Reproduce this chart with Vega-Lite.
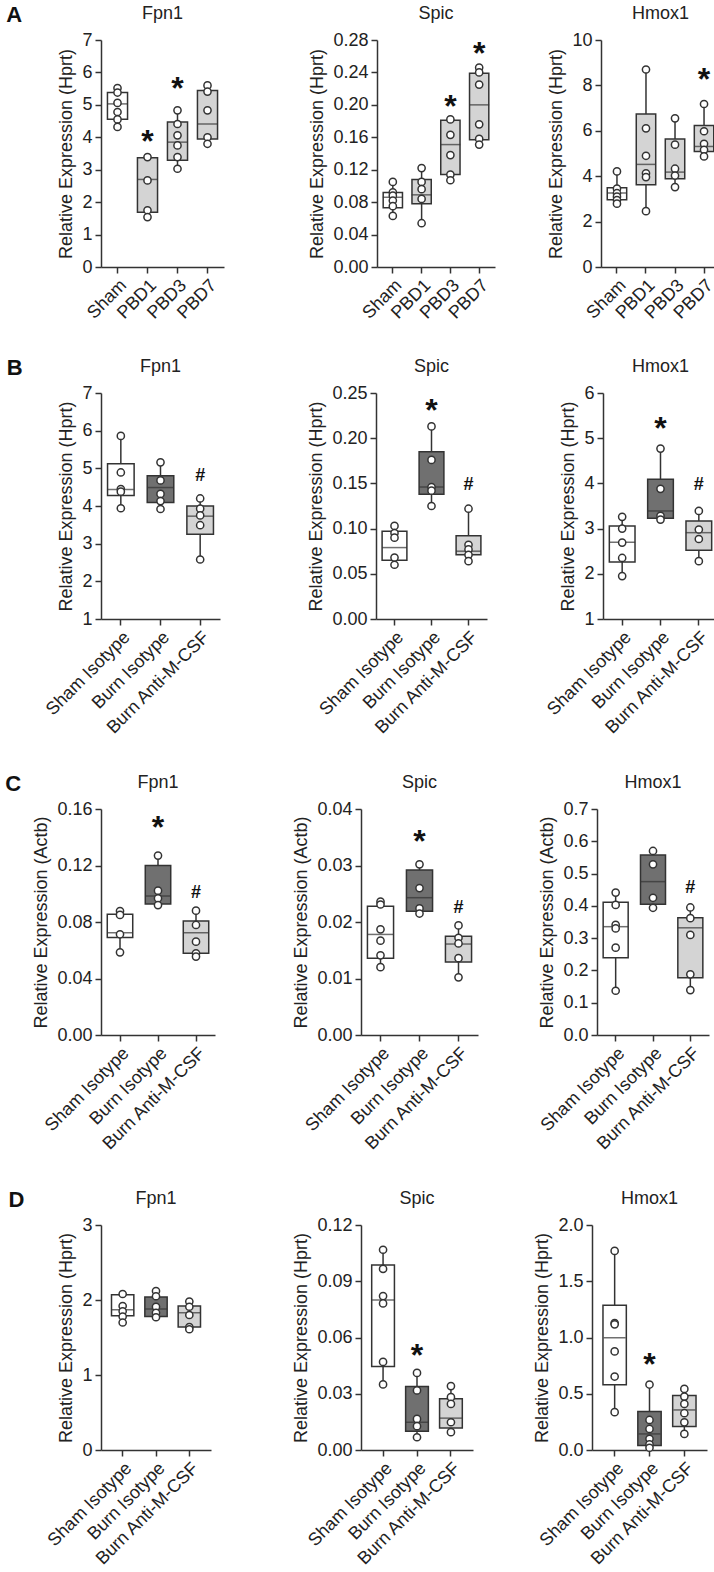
{
"$schema":"https://vega.github.io/schema/vega-lite/v6.json",
"background":"white",
"padding":{"left":5,"right":5,"top":4,"bottom":5},
"datasets":{"d":[
{"p":"A1","k":"box","g":"Sham","min":4.32,"q1":4.56,"med":5.03,"q3":5.38,"max":5.52},
{"p":"A1","k":"box","g":"PBD1","min":1.54,"q1":1.69,"med":2.70,"q3":3.37,"max":3.39},
{"p":"A1","k":"box","g":"PBD3","min":3.03,"q1":3.29,"med":3.85,"q3":4.47,"max":4.83},
{"p":"A1","k":"box","g":"PBD7","min":3.80,"q1":3.95,"med":4.41,"q3":5.44,"max":5.60},
{"p":"A1","k":"pt","g":"Sham","v":5.52},{"p":"A1","k":"pt","g":"Sham","v":5.38},{"p":"A1","k":"pt","g":"Sham","v":5.06},{"p":"A1","k":"pt","g":"Sham","v":4.78},{"p":"A1","k":"pt","g":"Sham","v":4.55},{"p":"A1","k":"pt","g":"Sham","v":4.32},
{"p":"A1","k":"pt","g":"PBD1","v":3.39},{"p":"A1","k":"pt","g":"PBD1","v":2.67},{"p":"A1","k":"pt","g":"PBD1","v":1.75},{"p":"A1","k":"pt","g":"PBD1","v":1.54},
{"p":"A1","k":"pt","g":"PBD3","v":4.83},{"p":"A1","k":"pt","g":"PBD3","v":4.41},{"p":"A1","k":"pt","g":"PBD3","v":4.06},{"p":"A1","k":"pt","g":"PBD3","v":3.75},{"p":"A1","k":"pt","g":"PBD3","v":3.39},{"p":"A1","k":"pt","g":"PBD3","v":3.03},
{"p":"A1","k":"pt","g":"PBD7","v":5.60},{"p":"A1","k":"pt","g":"PBD7","v":5.41},{"p":"A1","k":"pt","g":"PBD7","v":4.83},{"p":"A1","k":"pt","g":"PBD7","v":4.00},{"p":"A1","k":"pt","g":"PBD7","v":3.80},
{"p":"A1","k":"star","g":"PBD1","v":4.1},{"p":"A1","k":"star","g":"PBD3","v":5.73},
{"p":"A2","k":"box","g":"Sham","min":0.063,"q1":0.073,"med":0.086,"q3":0.092,"max":0.105},
{"p":"A2","k":"box","g":"PBD1","min":0.054,"q1":0.078,"med":0.089,"q3":0.108,"max":0.122},
{"p":"A2","k":"box","g":"PBD3","min":0.107,"q1":0.114,"med":0.151,"q3":0.181,"max":0.182},
{"p":"A2","k":"box","g":"PBD7","min":0.151,"q1":0.157,"med":0.200,"q3":0.239,"max":0.246},
{"p":"A2","k":"pt","g":"Sham","v":0.105},{"p":"A2","k":"pt","g":"Sham","v":0.092},{"p":"A2","k":"pt","g":"Sham","v":0.088},{"p":"A2","k":"pt","g":"Sham","v":0.082},{"p":"A2","k":"pt","g":"Sham","v":0.075},{"p":"A2","k":"pt","g":"Sham","v":0.063},
{"p":"A2","k":"pt","g":"PBD1","v":0.122},{"p":"A2","k":"pt","g":"PBD1","v":0.105},{"p":"A2","k":"pt","g":"PBD1","v":0.096},{"p":"A2","k":"pt","g":"PBD1","v":0.084},{"p":"A2","k":"pt","g":"PBD1","v":0.054},
{"p":"A2","k":"pt","g":"PBD3","v":0.182},{"p":"A2","k":"pt","g":"PBD3","v":0.163},{"p":"A2","k":"pt","g":"PBD3","v":0.138},{"p":"A2","k":"pt","g":"PBD3","v":0.114},{"p":"A2","k":"pt","g":"PBD3","v":0.107},
{"p":"A2","k":"pt","g":"PBD7","v":0.246},{"p":"A2","k":"pt","g":"PBD7","v":0.240},{"p":"A2","k":"pt","g":"PBD7","v":0.225},{"p":"A2","k":"pt","g":"PBD7","v":0.176},{"p":"A2","k":"pt","g":"PBD7","v":0.158},{"p":"A2","k":"pt","g":"PBD7","v":0.151},
{"p":"A2","k":"star","g":"PBD3","v":0.207},{"p":"A2","k":"star","g":"PBD7","v":0.273},
{"p":"A3","k":"box","g":"Sham","min":2.79,"q1":2.96,"med":3.26,"q3":3.49,"max":4.21},
{"p":"A3","k":"box","g":"PBD1","min":2.46,"q1":3.62,"med":4.52,"q3":6.74,"max":8.70},
{"p":"A3","k":"box","g":"PBD3","min":3.52,"q1":3.89,"med":4.18,"q3":5.64,"max":6.55},
{"p":"A3","k":"box","g":"PBD7","min":4.87,"q1":5.09,"med":5.31,"q3":6.23,"max":7.18},
{"p":"A3","k":"pt","g":"Sham","v":4.21},{"p":"A3","k":"pt","g":"Sham","v":3.45},{"p":"A3","k":"pt","g":"Sham","v":3.25},{"p":"A3","k":"pt","g":"Sham","v":3.10},{"p":"A3","k":"pt","g":"Sham","v":2.95},{"p":"A3","k":"pt","g":"Sham","v":2.79},
{"p":"A3","k":"pt","g":"PBD1","v":8.70},{"p":"A3","k":"pt","g":"PBD1","v":6.11},{"p":"A3","k":"pt","g":"PBD1","v":4.90},{"p":"A3","k":"pt","g":"PBD1","v":4.13},{"p":"A3","k":"pt","g":"PBD1","v":3.96},{"p":"A3","k":"pt","g":"PBD1","v":2.46},
{"p":"A3","k":"pt","g":"PBD3","v":6.55},{"p":"A3","k":"pt","g":"PBD3","v":5.39},{"p":"A3","k":"pt","g":"PBD3","v":4.33},{"p":"A3","k":"pt","g":"PBD3","v":4.03},{"p":"A3","k":"pt","g":"PBD3","v":3.52},
{"p":"A3","k":"pt","g":"PBD7","v":7.18},{"p":"A3","k":"pt","g":"PBD7","v":5.98},{"p":"A3","k":"pt","g":"PBD7","v":5.43},{"p":"A3","k":"pt","g":"PBD7","v":5.16},{"p":"A3","k":"pt","g":"PBD7","v":4.87},
{"p":"A3","k":"star","g":"PBD7","v":8.6},
{"p":"B1","k":"box","g":"Sham Isotype","min":3.94,"q1":4.28,"med":4.44,"q3":5.12,"max":5.86},
{"p":"B1","k":"box","g":"Burn Isotype","min":3.92,"q1":4.09,"med":4.49,"q3":4.80,"max":5.16},
{"p":"B1","k":"box","g":"Burn Anti-M-CSF","min":2.58,"q1":3.25,"med":3.73,"q3":4.00,"max":4.20},
{"p":"B1","k":"pt","g":"Sham Isotype","v":5.86},{"p":"B1","k":"pt","g":"Sham Isotype","v":4.89},{"p":"B1","k":"pt","g":"Sham Isotype","v":4.45},{"p":"B1","k":"pt","g":"Sham Isotype","v":4.38},{"p":"B1","k":"pt","g":"Sham Isotype","v":3.94},
{"p":"B1","k":"pt","g":"Burn Isotype","v":5.16},{"p":"B1","k":"pt","g":"Burn Isotype","v":4.68},{"p":"B1","k":"pt","g":"Burn Isotype","v":4.32},{"p":"B1","k":"pt","g":"Burn Isotype","v":4.13},{"p":"B1","k":"pt","g":"Burn Isotype","v":3.92},
{"p":"B1","k":"pt","g":"Burn Anti-M-CSF","v":4.20},{"p":"B1","k":"pt","g":"Burn Anti-M-CSF","v":3.93},{"p":"B1","k":"pt","g":"Burn Anti-M-CSF","v":3.75},{"p":"B1","k":"pt","g":"Burn Anti-M-CSF","v":3.49},{"p":"B1","k":"pt","g":"Burn Anti-M-CSF","v":2.58},
{"p":"B1","k":"hash","g":"Burn Anti-M-CSF","v":4.8},
{"p":"B2","k":"box","g":"Sham Isotype","min":0.060,"q1":0.065,"med":0.079,"q3":0.097,"max":0.103},
{"p":"B2","k":"box","g":"Burn Isotype","min":0.125,"q1":0.138,"med":0.146,"q3":0.185,"max":0.213},
{"p":"B2","k":"box","g":"Burn Anti-M-CSF","min":0.064,"q1":0.071,"med":0.075,"q3":0.092,"max":0.122},
{"p":"B2","k":"pt","g":"Sham Isotype","v":0.103},{"p":"B2","k":"pt","g":"Sham Isotype","v":0.095},{"p":"B2","k":"pt","g":"Sham Isotype","v":0.090},{"p":"B2","k":"pt","g":"Sham Isotype","v":0.068},{"p":"B2","k":"pt","g":"Sham Isotype","v":0.060},
{"p":"B2","k":"pt","g":"Burn Isotype","v":0.213},{"p":"B2","k":"pt","g":"Burn Isotype","v":0.176},{"p":"B2","k":"pt","g":"Burn Isotype","v":0.146},{"p":"B2","k":"pt","g":"Burn Isotype","v":0.142},{"p":"B2","k":"pt","g":"Burn Isotype","v":0.125},
{"p":"B2","k":"pt","g":"Burn Anti-M-CSF","v":0.122},{"p":"B2","k":"pt","g":"Burn Anti-M-CSF","v":0.082},{"p":"B2","k":"pt","g":"Burn Anti-M-CSF","v":0.077},{"p":"B2","k":"pt","g":"Burn Anti-M-CSF","v":0.071},{"p":"B2","k":"pt","g":"Burn Anti-M-CSF","v":0.064},
{"p":"B2","k":"star","g":"Burn Isotype","v":0.239},{"p":"B2","k":"hash","g":"Burn Anti-M-CSF","v":0.148},
{"p":"B3","k":"box","g":"Sham Isotype","min":1.95,"q1":2.26,"med":2.70,"q3":3.06,"max":3.26},
{"p":"B3","k":"box","g":"Burn Isotype","min":3.20,"q1":3.23,"med":3.39,"q3":4.09,"max":4.77},
{"p":"B3","k":"box","g":"Burn Anti-M-CSF","min":2.28,"q1":2.52,"med":2.91,"q3":3.17,"max":3.39},
{"p":"B3","k":"pt","g":"Sham Isotype","v":3.26},{"p":"B3","k":"pt","g":"Sham Isotype","v":3.00},{"p":"B3","k":"pt","g":"Sham Isotype","v":2.69},{"p":"B3","k":"pt","g":"Sham Isotype","v":2.35},{"p":"B3","k":"pt","g":"Sham Isotype","v":1.95},
{"p":"B3","k":"pt","g":"Burn Isotype","v":4.77},{"p":"B3","k":"pt","g":"Burn Isotype","v":3.88},{"p":"B3","k":"pt","g":"Burn Isotype","v":3.28},{"p":"B3","k":"pt","g":"Burn Isotype","v":3.20},
{"p":"B3","k":"pt","g":"Burn Anti-M-CSF","v":3.39},{"p":"B3","k":"pt","g":"Burn Anti-M-CSF","v":2.98},{"p":"B3","k":"pt","g":"Burn Anti-M-CSF","v":2.77},{"p":"B3","k":"pt","g":"Burn Anti-M-CSF","v":2.28},
{"p":"B3","k":"star","g":"Burn Isotype","v":5.39},{"p":"B3","k":"hash","g":"Burn Anti-M-CSF","v":3.97},
{"p":"C1","k":"box","g":"Sham Isotype","min":0.0585,"q1":0.069,"med":0.0724,"q3":0.0854,"max":0.0878},
{"p":"C1","k":"box","g":"Burn Isotype","min":0.092,"q1":0.0927,"med":0.0984,"q3":0.120,"max":0.127},
{"p":"C1","k":"box","g":"Burn Anti-M-CSF","min":0.0555,"q1":0.0578,"med":0.0724,"q3":0.0807,"max":0.088},
{"p":"C1","k":"pt","g":"Sham Isotype","v":0.0878},{"p":"C1","k":"pt","g":"Sham Isotype","v":0.085},{"p":"C1","k":"pt","g":"Sham Isotype","v":0.0713},{"p":"C1","k":"pt","g":"Sham Isotype","v":0.0585},
{"p":"C1","k":"pt","g":"Burn Isotype","v":0.127},{"p":"C1","k":"pt","g":"Burn Isotype","v":0.1022},{"p":"C1","k":"pt","g":"Burn Isotype","v":0.0968},{"p":"C1","k":"pt","g":"Burn Isotype","v":0.092},
{"p":"C1","k":"pt","g":"Burn Anti-M-CSF","v":0.088},{"p":"C1","k":"pt","g":"Burn Anti-M-CSF","v":0.0779},{"p":"C1","k":"pt","g":"Burn Anti-M-CSF","v":0.0661},{"p":"C1","k":"pt","g":"Burn Anti-M-CSF","v":0.0578},{"p":"C1","k":"pt","g":"Burn Anti-M-CSF","v":0.0555},
{"p":"C1","k":"star","g":"Burn Isotype","v":0.152},{"p":"C1","k":"hash","g":"Burn Anti-M-CSF","v":0.1008},
{"p":"C2","k":"box","g":"Sham Isotype","min":0.012,"q1":0.0136,"med":0.0178,"q3":0.0228,"max":0.0236},
{"p":"C2","k":"box","g":"Burn Isotype","min":0.0215,"q1":0.0219,"med":0.0243,"q3":0.0292,"max":0.0302},
{"p":"C2","k":"box","g":"Burn Anti-M-CSF","min":0.0102,"q1":0.0129,"med":0.0161,"q3":0.0175,"max":0.0194},
{"p":"C2","k":"pt","g":"Sham Isotype","v":0.0236},{"p":"C2","k":"pt","g":"Sham Isotype","v":0.0231},{"p":"C2","k":"pt","g":"Sham Isotype","v":0.0187},{"p":"C2","k":"pt","g":"Sham Isotype","v":0.0167},{"p":"C2","k":"pt","g":"Sham Isotype","v":0.0141},{"p":"C2","k":"pt","g":"Sham Isotype","v":0.012},
{"p":"C2","k":"pt","g":"Burn Isotype","v":0.0302},{"p":"C2","k":"pt","g":"Burn Isotype","v":0.026},{"p":"C2","k":"pt","g":"Burn Isotype","v":0.0224},{"p":"C2","k":"pt","g":"Burn Isotype","v":0.0215},
{"p":"C2","k":"pt","g":"Burn Anti-M-CSF","v":0.0194},{"p":"C2","k":"pt","g":"Burn Anti-M-CSF","v":0.0172},{"p":"C2","k":"pt","g":"Burn Anti-M-CSF","v":0.0162},{"p":"C2","k":"pt","g":"Burn Anti-M-CSF","v":0.0136},{"p":"C2","k":"pt","g":"Burn Anti-M-CSF","v":0.0102},
{"p":"C2","k":"star","g":"Burn Isotype","v":0.0356},{"p":"C2","k":"hash","g":"Burn Anti-M-CSF","v":0.0225},
{"p":"C3","k":"box","g":"Sham Isotype","min":0.137,"q1":0.2395,"med":0.3355,"q3":0.411,"max":0.441},
{"p":"C3","k":"box","g":"Burn Isotype","min":0.394,"q1":0.405,"med":0.475,"q3":0.5575,"max":0.57},
{"p":"C3","k":"box","g":"Burn Anti-M-CSF","min":0.139,"q1":0.1776,"med":0.332,"q3":0.363,"max":0.395},
{"p":"C3","k":"pt","g":"Sham Isotype","v":0.441},{"p":"C3","k":"pt","g":"Sham Isotype","v":0.403},{"p":"C3","k":"pt","g":"Sham Isotype","v":0.341},{"p":"C3","k":"pt","g":"Sham Isotype","v":0.33},{"p":"C3","k":"pt","g":"Sham Isotype","v":0.2705},{"p":"C3","k":"pt","g":"Sham Isotype","v":0.137},
{"p":"C3","k":"pt","g":"Burn Isotype","v":0.57},{"p":"C3","k":"pt","g":"Burn Isotype","v":0.5286},{"p":"C3","k":"pt","g":"Burn Isotype","v":0.425},{"p":"C3","k":"pt","g":"Burn Isotype","v":0.394},
{"p":"C3","k":"pt","g":"Burn Anti-M-CSF","v":0.395},{"p":"C3","k":"pt","g":"Burn Anti-M-CSF","v":0.362},{"p":"C3","k":"pt","g":"Burn Anti-M-CSF","v":0.31},{"p":"C3","k":"pt","g":"Burn Anti-M-CSF","v":0.188},{"p":"C3","k":"pt","g":"Burn Anti-M-CSF","v":0.139},
{"p":"C3","k":"hash","g":"Burn Anti-M-CSF","v":0.454},
{"p":"D1","k":"box","g":"Sham Isotype","min":1.70,"q1":1.79,"med":1.87,"q3":2.07,"max":2.08},
{"p":"D1","k":"box","g":"Burn Isotype","min":1.77,"q1":1.78,"med":1.88,"q3":2.04,"max":2.12},
{"p":"D1","k":"box","g":"Burn Anti-M-CSF","min":1.61,"q1":1.64,"med":1.83,"q3":1.92,"max":1.98},
{"p":"D1","k":"pt","g":"Sham Isotype","v":2.08},{"p":"D1","k":"pt","g":"Sham Isotype","v":1.92},{"p":"D1","k":"pt","g":"Sham Isotype","v":1.85},{"p":"D1","k":"pt","g":"Sham Isotype","v":1.78},{"p":"D1","k":"pt","g":"Sham Isotype","v":1.70},
{"p":"D1","k":"pt","g":"Burn Isotype","v":2.12},{"p":"D1","k":"pt","g":"Burn Isotype","v":2.05},{"p":"D1","k":"pt","g":"Burn Isotype","v":1.91},{"p":"D1","k":"pt","g":"Burn Isotype","v":1.83},{"p":"D1","k":"pt","g":"Burn Isotype","v":1.77},
{"p":"D1","k":"pt","g":"Burn Anti-M-CSF","v":1.98},{"p":"D1","k":"pt","g":"Burn Anti-M-CSF","v":1.91},{"p":"D1","k":"pt","g":"Burn Anti-M-CSF","v":1.80},{"p":"D1","k":"pt","g":"Burn Anti-M-CSF","v":1.64},{"p":"D1","k":"pt","g":"Burn Anti-M-CSF","v":1.61},
{"p":"D2","k":"box","g":"Sham Isotype","min":0.035,"q1":0.0446,"med":0.080,"q3":0.0987,"max":0.1068},
{"p":"D2","k":"box","g":"Burn Isotype","min":0.0068,"q1":0.010,"med":0.0148,"q3":0.0339,"max":0.0411},
{"p":"D2","k":"box","g":"Burn Anti-M-CSF","min":0.0095,"q1":0.0118,"med":0.017,"q3":0.0273,"max":0.0341},
{"p":"D2","k":"pt","g":"Sham Isotype","v":0.1068},{"p":"D2","k":"pt","g":"Sham Isotype","v":0.0966},{"p":"D2","k":"pt","g":"Sham Isotype","v":0.0821},{"p":"D2","k":"pt","g":"Sham Isotype","v":0.0782},{"p":"D2","k":"pt","g":"Sham Isotype","v":0.047},{"p":"D2","k":"pt","g":"Sham Isotype","v":0.035},
{"p":"D2","k":"pt","g":"Burn Isotype","v":0.0411},{"p":"D2","k":"pt","g":"Burn Isotype","v":0.0318},{"p":"D2","k":"pt","g":"Burn Isotype","v":0.0166},{"p":"D2","k":"pt","g":"Burn Isotype","v":0.0127},{"p":"D2","k":"pt","g":"Burn Isotype","v":0.0068},
{"p":"D2","k":"pt","g":"Burn Anti-M-CSF","v":0.0341},{"p":"D2","k":"pt","g":"Burn Anti-M-CSF","v":0.0282},{"p":"D2","k":"pt","g":"Burn Anti-M-CSF","v":0.0246},{"p":"D2","k":"pt","g":"Burn Anti-M-CSF","v":0.0148},{"p":"D2","k":"pt","g":"Burn Anti-M-CSF","v":0.0095},
{"p":"D2","k":"star","g":"Burn Isotype","v":0.0546},
{"p":"D3","k":"box","g":"Sham Isotype","min":0.336,"q1":0.579,"med":0.998,"q3":1.286,"max":1.77},
{"p":"D3","k":"box","g":"Burn Isotype","min":0.02,"q1":0.04,"med":0.143,"q3":0.342,"max":0.582},
{"p":"D3","k":"box","g":"Burn Anti-M-CSF","min":0.143,"q1":0.208,"med":0.356,"q3":0.484,"max":0.543},
{"p":"D3","k":"pt","g":"Sham Isotype","v":1.77},{"p":"D3","k":"pt","g":"Sham Isotype","v":1.129},{"p":"D3","k":"pt","g":"Sham Isotype","v":1.117},{"p":"D3","k":"pt","g":"Sham Isotype","v":0.876},{"p":"D3","k":"pt","g":"Sham Isotype","v":0.653},{"p":"D3","k":"pt","g":"Sham Isotype","v":0.336},
{"p":"D3","k":"pt","g":"Burn Isotype","v":0.582},{"p":"D3","k":"pt","g":"Burn Isotype","v":0.267},{"p":"D3","k":"pt","g":"Burn Isotype","v":0.187},{"p":"D3","k":"pt","g":"Burn Isotype","v":0.10},{"p":"D3","k":"pt","g":"Burn Isotype","v":0.05},{"p":"D3","k":"pt","g":"Burn Isotype","v":0.02},
{"p":"D3","k":"pt","g":"Burn Anti-M-CSF","v":0.543},{"p":"D3","k":"pt","g":"Burn Anti-M-CSF","v":0.475},{"p":"D3","k":"pt","g":"Burn Anti-M-CSF","v":0.41},{"p":"D3","k":"pt","g":"Burn Anti-M-CSF","v":0.327},{"p":"D3","k":"pt","g":"Burn Anti-M-CSF","v":0.246},{"p":"D3","k":"pt","g":"Burn Anti-M-CSF","v":0.143},
{"p":"D3","k":"star","g":"Burn Isotype","v":0.83}
]},
"config":{
 "view":{"stroke":null},
 "font":"Liberation Sans",
 "axis":{"domainColor":"#333","domainWidth":1.5,"tickColor":"#333","tickWidth":1.5,"tickSize":6,"labelFont":"Liberation Sans","labelFontSize":18,"labelColor":"#222","titleFont":"Liberation Sans","titleFontSize":18,"titleFontWeight":"normal","titleColor":"#222","grid":false,"labelPadding":3,"titlePadding":6,"labelOverlap":false},
 "axisY":{"labelOverlap":false,"labelSeparation":-40},
 "axisQuantitative":{"labelOverlap":false},
 "axisX":{"labelAngle":-45},
 "title":{"font":"Liberation Sans","fontSize":18,"fontWeight":"normal","color":"#222","anchor":"middle","frame":"group","offset":8,"baseline":"bottom"}
},
"spacing":35,
"vconcat":[
{"title":{"text":"A","orient":"left","anchor":"end","angle":0,"align":"right","baseline":"top","frame":"bounds","fontSize":22,"fontWeight":"bold","color":"#111","offset":0,"dx":-20},
 "spacing":84,
 "hconcat":[
  {"width":123,"height":227,"title":{"text":"Fpn1"},"data":{"name":"d"},"transform":[{"filter":"datum.p==='A1'"}],
   "encoding":{"x":{"field":"g","type":"nominal","title":null,"scale":{"type":"band","domain":["Sham","PBD1","PBD3","PBD7"],"paddingInner":0,"paddingOuter":0.05}}},
   "layer":[
    {"transform":[{"filter":"datum.k==='box'"}],"mark":{"type":"rule","color":"#333","strokeWidth":1.5},"encoding":{"y":{"field":"min","type":"quantitative","title":"Relative Expression (Hprt)","scale":{"domain":[0,7],"nice":false,"zero":false},"axis":{"values":[0,1,2,3,4,5,6,7],"format":"d","labelOverlap":false}},"y2":{"field":"max"}}},
    {"transform":[{"filter":"datum.k==='box'"}],"mark":{"type":"bar","width":{"band":0.67},"stroke":"#333","strokeWidth":1.5},"encoding":{"y":{"field":"q1","type":"quantitative","title":"Relative Expression (Hprt)","axis":{"values":[0,1,2,3,4,5,6,7],"format":"d","labelOverlap":false}},"y2":{"field":"q3"},"fill":{"field":"g","type":"nominal","legend":null,"scale":{"domain":["Sham","PBD1","PBD3","PBD7","Sham Isotype","Burn Isotype","Burn Anti-M-CSF"],"range":["#ffffff","#d4d4d4","#d4d4d4","#d4d4d4","#ffffff","#707070","#d4d4d4"]}}}},
    {"transform":[{"filter":"datum.k==='box'"}],"mark":{"type":"tick","color":"#333","thickness":1.5,"size":20},"encoding":{"y":{"field":"med","type":"quantitative","title":"Relative Expression (Hprt)","axis":{"values":[0,1,2,3,4,5,6,7],"format":"d","labelOverlap":false}}}},
    {"transform":[{"filter":"datum.k==='pt'"}],"mark":{"type":"point","filled":true,"fill":"#ffffff","stroke":"#333","strokeWidth":1.5,"size":52,"opacity":1},"encoding":{"y":{"field":"v","type":"quantitative","title":"Relative Expression (Hprt)","axis":{"values":[0,1,2,3,4,5,6,7],"format":"d","labelOverlap":false}}}},
    {"transform":[{"filter":"datum.k==='star'"}],"mark":{"type":"text","text":"*","fontSize":32,"fontWeight":"bold","color":"#111","baseline":"middle","dy":8},"encoding":{"y":{"field":"v","type":"quantitative","title":"Relative Expression (Hprt)","axis":{"values":[0,1,2,3,4,5,6,7],"format":"d","labelOverlap":false}}}}
   ]},
  {"spacing":52,"hconcat":[
  {"width":118,"height":227,"title":{"text":"Spic"},"data":{"name":"d"},"transform":[{"filter":"datum.p==='A2'"}],
   "encoding":{"x":{"field":"g","type":"nominal","title":null,"scale":{"type":"band","domain":["Sham","PBD1","PBD3","PBD7"],"paddingInner":0,"paddingOuter":0.05}}},
   "layer":[
    {"transform":[{"filter":"datum.k==='box'"}],"mark":{"type":"rule","color":"#333","strokeWidth":1.5},"encoding":{"y":{"field":"min","type":"quantitative","title":"Relative Expression (Hprt)","scale":{"domain":[0,0.28],"nice":false,"zero":false},"axis":{"values":[0,0.04,0.08,0.12,0.16,0.20,0.24,0.28],"format":".2f","labelOverlap":false}},"y2":{"field":"max"}}},
    {"transform":[{"filter":"datum.k==='box'"}],"mark":{"type":"bar","width":{"band":0.67},"stroke":"#333","strokeWidth":1.5},"encoding":{"y":{"field":"q1","type":"quantitative","title":"Relative Expression (Hprt)","axis":{"values":[0,0.04,0.08,0.12,0.16,0.20,0.24,0.28],"format":".2f","labelOverlap":false}},"y2":{"field":"q3"},"fill":{"field":"g","type":"nominal","legend":null,"scale":{"domain":["Sham","PBD1","PBD3","PBD7","Sham Isotype","Burn Isotype","Burn Anti-M-CSF"],"range":["#ffffff","#d4d4d4","#d4d4d4","#d4d4d4","#ffffff","#707070","#d4d4d4"]}}}},
    {"transform":[{"filter":"datum.k==='box'"}],"mark":{"type":"tick","color":"#333","thickness":1.5,"size":20},"encoding":{"y":{"field":"med","type":"quantitative","title":"Relative Expression (Hprt)","axis":{"values":[0,0.04,0.08,0.12,0.16,0.20,0.24,0.28],"format":".2f","labelOverlap":false}}}},
    {"transform":[{"filter":"datum.k==='pt'"}],"mark":{"type":"point","filled":true,"fill":"#ffffff","stroke":"#333","strokeWidth":1.5,"size":52,"opacity":1},"encoding":{"y":{"field":"v","type":"quantitative","title":"Relative Expression (Hprt)","axis":{"values":[0,0.04,0.08,0.12,0.16,0.20,0.24,0.28],"format":".2f","labelOverlap":false}}}},
    {"transform":[{"filter":"datum.k==='star'"}],"mark":{"type":"text","text":"*","fontSize":32,"fontWeight":"bold","color":"#111","baseline":"middle","dy":8},"encoding":{"y":{"field":"v","type":"quantitative","title":"Relative Expression (Hprt)","axis":{"values":[0,0.04,0.08,0.12,0.16,0.20,0.24,0.28],"format":".2f","labelOverlap":false}}}}
   ]},
  {"width":119,"height":227,"title":{"text":"Hmox1"},"data":{"name":"d"},"transform":[{"filter":"datum.p==='A3'"}],
   "encoding":{"x":{"field":"g","type":"nominal","title":null,"scale":{"type":"band","domain":["Sham","PBD1","PBD3","PBD7"],"paddingInner":0,"paddingOuter":0.05}}},
   "layer":[
    {"transform":[{"filter":"datum.k==='box'"}],"mark":{"type":"rule","color":"#333","strokeWidth":1.5},"encoding":{"y":{"field":"min","type":"quantitative","title":"Relative Expression (Hprt)","scale":{"domain":[0,10],"nice":false,"zero":false},"axis":{"values":[0,2,4,6,8,10],"format":"d","labelOverlap":false}},"y2":{"field":"max"}}},
    {"transform":[{"filter":"datum.k==='box'"}],"mark":{"type":"bar","width":{"band":0.67},"stroke":"#333","strokeWidth":1.5},"encoding":{"y":{"field":"q1","type":"quantitative","title":"Relative Expression (Hprt)","axis":{"values":[0,2,4,6,8,10],"format":"d","labelOverlap":false}},"y2":{"field":"q3"},"fill":{"field":"g","type":"nominal","legend":null,"scale":{"domain":["Sham","PBD1","PBD3","PBD7","Sham Isotype","Burn Isotype","Burn Anti-M-CSF"],"range":["#ffffff","#d4d4d4","#d4d4d4","#d4d4d4","#ffffff","#707070","#d4d4d4"]}}}},
    {"transform":[{"filter":"datum.k==='box'"}],"mark":{"type":"tick","color":"#333","thickness":1.5,"size":20},"encoding":{"y":{"field":"med","type":"quantitative","title":"Relative Expression (Hprt)","axis":{"values":[0,2,4,6,8,10],"format":"d","labelOverlap":false}}}},
    {"transform":[{"filter":"datum.k==='pt'"}],"mark":{"type":"point","filled":true,"fill":"#ffffff","stroke":"#333","strokeWidth":1.5,"size":52,"opacity":1},"encoding":{"y":{"field":"v","type":"quantitative","title":"Relative Expression (Hprt)","axis":{"values":[0,2,4,6,8,10],"format":"d","labelOverlap":false}}}},
    {"transform":[{"filter":"datum.k==='star'"}],"mark":{"type":"text","text":"*","fontSize":32,"fontWeight":"bold","color":"#111","baseline":"middle","dy":8},"encoding":{"y":{"field":"v","type":"quantitative","title":"Relative Expression (Hprt)","axis":{"values":[0,2,4,6,8,10],"format":"d","labelOverlap":false}}}}
   ]}
  ]}
 ]},
{"title":{"text":"B","orient":"left","anchor":"end","angle":0,"align":"right","baseline":"top","frame":"bounds","fontSize":22,"fontWeight":"bold","color":"#111","offset":0,"dx":-4},
 "spacing":87,
 "hconcat":[
  {"width":119,"height":226,"title":{"text":"Fpn1"},"data":{"name":"d"},"transform":[{"filter":"datum.p==='B1'"}],
   "encoding":{"x":{"field":"g","type":"nominal","title":null,"scale":{"type":"band","domain":["Sham Isotype","Burn Isotype","Burn Anti-M-CSF"],"paddingInner":0,"paddingOuter":0}}},
   "layer":[
    {"transform":[{"filter":"datum.k==='box'"}],"mark":{"type":"rule","color":"#333","strokeWidth":1.5},"encoding":{"y":{"field":"min","type":"quantitative","title":"Relative Expression (Hprt)","scale":{"domain":[1,7],"nice":false,"zero":false},"axis":{"values":[1,2,3,4,5,6,7],"format":"d","labelOverlap":false}},"y2":{"field":"max"}}},
    {"transform":[{"filter":"datum.k==='box'"}],"mark":{"type":"bar","width":{"band":0.67},"stroke":"#333","strokeWidth":1.5},"encoding":{"y":{"field":"q1","type":"quantitative","title":"Relative Expression (Hprt)","axis":{"values":[1,2,3,4,5,6,7],"format":"d","labelOverlap":false}},"y2":{"field":"q3"},"fill":{"field":"g","type":"nominal","legend":null,"scale":{"domain":["Sham","PBD1","PBD3","PBD7","Sham Isotype","Burn Isotype","Burn Anti-M-CSF"],"range":["#ffffff","#d4d4d4","#d4d4d4","#d4d4d4","#ffffff","#707070","#d4d4d4"]}}}},
    {"transform":[{"filter":"datum.k==='box'"}],"mark":{"type":"tick","color":"#333","thickness":1.5,"size":26},"encoding":{"y":{"field":"med","type":"quantitative","title":"Relative Expression (Hprt)","axis":{"values":[1,2,3,4,5,6,7],"format":"d","labelOverlap":false}}}},
    {"transform":[{"filter":"datum.k==='pt'"}],"mark":{"type":"point","filled":true,"fill":"#ffffff","stroke":"#333","strokeWidth":1.5,"size":52,"opacity":1},"encoding":{"y":{"field":"v","type":"quantitative","title":"Relative Expression (Hprt)","axis":{"values":[1,2,3,4,5,6,7],"format":"d","labelOverlap":false}}}},
    {"transform":[{"filter":"datum.k==='star'"}],"mark":{"type":"text","text":"*","fontSize":32,"fontWeight":"bold","color":"#111","baseline":"middle","dy":8},"encoding":{"y":{"field":"v","type":"quantitative","title":"Relative Expression (Hprt)","axis":{"values":[1,2,3,4,5,6,7],"format":"d","labelOverlap":false}}}},
    {"transform":[{"filter":"datum.k==='hash'"}],"mark":{"type":"text","text":"#","fontSize":18,"fontWeight":"bold","color":"#111","baseline":"middle"},"encoding":{"y":{"field":"v","type":"quantitative","title":"Relative Expression (Hprt)","axis":{"values":[1,2,3,4,5,6,7],"format":"d","labelOverlap":false}}}}
   ]},
  {"spacing":56,"hconcat":[
  {"width":111,"height":226,"title":{"text":"Spic"},"data":{"name":"d"},"transform":[{"filter":"datum.p==='B2'"}],
   "encoding":{"x":{"field":"g","type":"nominal","title":null,"scale":{"type":"band","domain":["Sham Isotype","Burn Isotype","Burn Anti-M-CSF"],"paddingInner":0,"paddingOuter":0}}},
   "layer":[
    {"transform":[{"filter":"datum.k==='box'"}],"mark":{"type":"rule","color":"#333","strokeWidth":1.5},"encoding":{"y":{"field":"min","type":"quantitative","title":"Relative Expression (Hprt)","scale":{"domain":[0,0.25],"nice":false,"zero":false},"axis":{"values":[0,0.05,0.10,0.15,0.20,0.25],"format":".2f","labelOverlap":false}},"y2":{"field":"max"}}},
    {"transform":[{"filter":"datum.k==='box'"}],"mark":{"type":"bar","width":{"band":0.67},"stroke":"#333","strokeWidth":1.5},"encoding":{"y":{"field":"q1","type":"quantitative","title":"Relative Expression (Hprt)","axis":{"values":[0,0.05,0.10,0.15,0.20,0.25],"format":".2f","labelOverlap":false}},"y2":{"field":"q3"},"fill":{"field":"g","type":"nominal","legend":null,"scale":{"domain":["Sham","PBD1","PBD3","PBD7","Sham Isotype","Burn Isotype","Burn Anti-M-CSF"],"range":["#ffffff","#d4d4d4","#d4d4d4","#d4d4d4","#ffffff","#707070","#d4d4d4"]}}}},
    {"transform":[{"filter":"datum.k==='box'"}],"mark":{"type":"tick","color":"#333","thickness":1.5,"size":25},"encoding":{"y":{"field":"med","type":"quantitative","title":"Relative Expression (Hprt)","axis":{"values":[0,0.05,0.10,0.15,0.20,0.25],"format":".2f","labelOverlap":false}}}},
    {"transform":[{"filter":"datum.k==='pt'"}],"mark":{"type":"point","filled":true,"fill":"#ffffff","stroke":"#333","strokeWidth":1.5,"size":52,"opacity":1},"encoding":{"y":{"field":"v","type":"quantitative","title":"Relative Expression (Hprt)","axis":{"values":[0,0.05,0.10,0.15,0.20,0.25],"format":".2f","labelOverlap":false}}}},
    {"transform":[{"filter":"datum.k==='star'"}],"mark":{"type":"text","text":"*","fontSize":32,"fontWeight":"bold","color":"#111","baseline":"middle","dy":8},"encoding":{"y":{"field":"v","type":"quantitative","title":"Relative Expression (Hprt)","axis":{"values":[0,0.05,0.10,0.15,0.20,0.25],"format":".2f","labelOverlap":false}}}},
    {"transform":[{"filter":"datum.k==='hash'"}],"mark":{"type":"text","text":"#","fontSize":18,"fontWeight":"bold","color":"#111","baseline":"middle"},"encoding":{"y":{"field":"v","type":"quantitative","title":"Relative Expression (Hprt)","axis":{"values":[0,0.05,0.10,0.15,0.20,0.25],"format":".2f","labelOverlap":false}}}}
   ]},
  {"width":115,"height":226,"title":{"text":"Hmox1"},"data":{"name":"d"},"transform":[{"filter":"datum.p==='B3'"}],
   "encoding":{"x":{"field":"g","type":"nominal","title":null,"scale":{"type":"band","domain":["Sham Isotype","Burn Isotype","Burn Anti-M-CSF"],"paddingInner":0,"paddingOuter":0}}},
   "layer":[
    {"transform":[{"filter":"datum.k==='box'"}],"mark":{"type":"rule","color":"#333","strokeWidth":1.5},"encoding":{"y":{"field":"min","type":"quantitative","title":"Relative Expression (Hprt)","scale":{"domain":[1,6],"nice":false,"zero":false},"axis":{"values":[1,2,3,4,5,6],"format":"d","labelOverlap":false}},"y2":{"field":"max"}}},
    {"transform":[{"filter":"datum.k==='box'"}],"mark":{"type":"bar","width":{"band":0.67},"stroke":"#333","strokeWidth":1.5},"encoding":{"y":{"field":"q1","type":"quantitative","title":"Relative Expression (Hprt)","axis":{"values":[1,2,3,4,5,6],"format":"d","labelOverlap":false}},"y2":{"field":"q3"},"fill":{"field":"g","type":"nominal","legend":null,"scale":{"domain":["Sham","PBD1","PBD3","PBD7","Sham Isotype","Burn Isotype","Burn Anti-M-CSF"],"range":["#ffffff","#d4d4d4","#d4d4d4","#d4d4d4","#ffffff","#707070","#d4d4d4"]}}}},
    {"transform":[{"filter":"datum.k==='box'"}],"mark":{"type":"tick","color":"#333","thickness":1.5,"size":26},"encoding":{"y":{"field":"med","type":"quantitative","title":"Relative Expression (Hprt)","axis":{"values":[1,2,3,4,5,6],"format":"d","labelOverlap":false}}}},
    {"transform":[{"filter":"datum.k==='pt'"}],"mark":{"type":"point","filled":true,"fill":"#ffffff","stroke":"#333","strokeWidth":1.5,"size":52,"opacity":1},"encoding":{"y":{"field":"v","type":"quantitative","title":"Relative Expression (Hprt)","axis":{"values":[1,2,3,4,5,6],"format":"d","labelOverlap":false}}}},
    {"transform":[{"filter":"datum.k==='star'"}],"mark":{"type":"text","text":"*","fontSize":32,"fontWeight":"bold","color":"#111","baseline":"middle","dy":8},"encoding":{"y":{"field":"v","type":"quantitative","title":"Relative Expression (Hprt)","axis":{"values":[1,2,3,4,5,6],"format":"d","labelOverlap":false}}}},
    {"transform":[{"filter":"datum.k==='hash'"}],"mark":{"type":"text","text":"#","fontSize":18,"fontWeight":"bold","color":"#111","baseline":"middle"},"encoding":{"y":{"field":"v","type":"quantitative","title":"Relative Expression (Hprt)","axis":{"values":[1,2,3,4,5,6],"format":"d","labelOverlap":false}}}}
   ]}
  ]}
 ]},
{"title":{"text":"C","orient":"left","anchor":"end","angle":0,"align":"right","baseline":"top","frame":"bounds","fontSize":22,"fontWeight":"bold","color":"#111","offset":0,"dx":4},
 "spacing":77,
 "hconcat":[
  {"width":114,"height":226,"title":{"text":"Fpn1"},"data":{"name":"d"},"transform":[{"filter":"datum.p==='C1'"}],
   "encoding":{"x":{"field":"g","type":"nominal","title":null,"scale":{"type":"band","domain":["Sham Isotype","Burn Isotype","Burn Anti-M-CSF"],"paddingInner":0,"paddingOuter":0}}},
   "layer":[
    {"transform":[{"filter":"datum.k==='box'"}],"mark":{"type":"rule","color":"#333","strokeWidth":1.5},"encoding":{"y":{"field":"min","type":"quantitative","title":"Relative Expression (Actb)","scale":{"domain":[0,0.16],"nice":false,"zero":false},"axis":{"values":[0,0.04,0.08,0.12,0.16],"format":".2f","labelOverlap":false}},"y2":{"field":"max"}}},
    {"transform":[{"filter":"datum.k==='box'"}],"mark":{"type":"bar","width":{"band":0.67},"stroke":"#333","strokeWidth":1.5},"encoding":{"y":{"field":"q1","type":"quantitative","title":"Relative Expression (Actb)","axis":{"values":[0,0.04,0.08,0.12,0.16],"format":".2f","labelOverlap":false}},"y2":{"field":"q3"},"fill":{"field":"g","type":"nominal","legend":null,"scale":{"domain":["Sham","PBD1","PBD3","PBD7","Sham Isotype","Burn Isotype","Burn Anti-M-CSF"],"range":["#ffffff","#d4d4d4","#d4d4d4","#d4d4d4","#ffffff","#707070","#d4d4d4"]}}}},
    {"transform":[{"filter":"datum.k==='box'"}],"mark":{"type":"tick","color":"#333","thickness":1.5,"size":25},"encoding":{"y":{"field":"med","type":"quantitative","title":"Relative Expression (Actb)","axis":{"values":[0,0.04,0.08,0.12,0.16],"format":".2f","labelOverlap":false}}}},
    {"transform":[{"filter":"datum.k==='pt'"}],"mark":{"type":"point","filled":true,"fill":"#ffffff","stroke":"#333","strokeWidth":1.5,"size":52,"opacity":1},"encoding":{"y":{"field":"v","type":"quantitative","title":"Relative Expression (Actb)","axis":{"values":[0,0.04,0.08,0.12,0.16],"format":".2f","labelOverlap":false}}}},
    {"transform":[{"filter":"datum.k==='star'"}],"mark":{"type":"text","text":"*","fontSize":32,"fontWeight":"bold","color":"#111","baseline":"middle","dy":8},"encoding":{"y":{"field":"v","type":"quantitative","title":"Relative Expression (Actb)","axis":{"values":[0,0.04,0.08,0.12,0.16],"format":".2f","labelOverlap":false}}}},
    {"transform":[{"filter":"datum.k==='hash'"}],"mark":{"type":"text","text":"#","fontSize":18,"fontWeight":"bold","color":"#111","baseline":"middle"},"encoding":{"y":{"field":"v","type":"quantitative","title":"Relative Expression (Actb)","axis":{"values":[0,0.04,0.08,0.12,0.16],"format":".2f","labelOverlap":false}}}}
   ]},
  {"spacing":59,"hconcat":[
  {"width":117,"height":226,"title":{"text":"Spic"},"data":{"name":"d"},"transform":[{"filter":"datum.p==='C2'"}],
   "encoding":{"x":{"field":"g","type":"nominal","title":null,"scale":{"type":"band","domain":["Sham Isotype","Burn Isotype","Burn Anti-M-CSF"],"paddingInner":0,"paddingOuter":0}}},
   "layer":[
    {"transform":[{"filter":"datum.k==='box'"}],"mark":{"type":"rule","color":"#333","strokeWidth":1.5},"encoding":{"y":{"field":"min","type":"quantitative","title":"Relative Expression (Actb)","scale":{"domain":[0,0.04],"nice":false,"zero":false},"axis":{"values":[0,0.01,0.02,0.03,0.04],"format":".2f","labelOverlap":false}},"y2":{"field":"max"}}},
    {"transform":[{"filter":"datum.k==='box'"}],"mark":{"type":"bar","width":{"band":0.67},"stroke":"#333","strokeWidth":1.5},"encoding":{"y":{"field":"q1","type":"quantitative","title":"Relative Expression (Actb)","axis":{"values":[0,0.01,0.02,0.03,0.04],"format":".2f","labelOverlap":false}},"y2":{"field":"q3"},"fill":{"field":"g","type":"nominal","legend":null,"scale":{"domain":["Sham","PBD1","PBD3","PBD7","Sham Isotype","Burn Isotype","Burn Anti-M-CSF"],"range":["#ffffff","#d4d4d4","#d4d4d4","#d4d4d4","#ffffff","#707070","#d4d4d4"]}}}},
    {"transform":[{"filter":"datum.k==='box'"}],"mark":{"type":"tick","color":"#333","thickness":1.5,"size":25},"encoding":{"y":{"field":"med","type":"quantitative","title":"Relative Expression (Actb)","axis":{"values":[0,0.01,0.02,0.03,0.04],"format":".2f","labelOverlap":false}}}},
    {"transform":[{"filter":"datum.k==='pt'"}],"mark":{"type":"point","filled":true,"fill":"#ffffff","stroke":"#333","strokeWidth":1.5,"size":52,"opacity":1},"encoding":{"y":{"field":"v","type":"quantitative","title":"Relative Expression (Actb)","axis":{"values":[0,0.01,0.02,0.03,0.04],"format":".2f","labelOverlap":false}}}},
    {"transform":[{"filter":"datum.k==='star'"}],"mark":{"type":"text","text":"*","fontSize":32,"fontWeight":"bold","color":"#111","baseline":"middle","dy":8},"encoding":{"y":{"field":"v","type":"quantitative","title":"Relative Expression (Actb)","axis":{"values":[0,0.01,0.02,0.03,0.04],"format":".2f","labelOverlap":false}}}},
    {"transform":[{"filter":"datum.k==='hash'"}],"mark":{"type":"text","text":"#","fontSize":18,"fontWeight":"bold","color":"#111","baseline":"middle"},"encoding":{"y":{"field":"v","type":"quantitative","title":"Relative Expression (Actb)","axis":{"values":[0,0.01,0.02,0.03,0.04],"format":".2f","labelOverlap":false}}}}
   ]},
  {"width":112,"height":226,"title":{"text":"Hmox1"},"data":{"name":"d"},"transform":[{"filter":"datum.p==='C3'"}],
   "encoding":{"x":{"field":"g","type":"nominal","title":null,"scale":{"type":"band","domain":["Sham Isotype","Burn Isotype","Burn Anti-M-CSF"],"paddingInner":0,"paddingOuter":0}}},
   "layer":[
    {"transform":[{"filter":"datum.k==='box'"}],"mark":{"type":"rule","color":"#333","strokeWidth":1.5},"encoding":{"y":{"field":"min","type":"quantitative","title":"Relative Expression (Actb)","scale":{"domain":[0,0.7],"nice":false,"zero":false},"axis":{"values":[0,0.1,0.2,0.3,0.4,0.5,0.6,0.7],"format":".1f","labelOverlap":false}},"y2":{"field":"max"}}},
    {"transform":[{"filter":"datum.k==='box'"}],"mark":{"type":"bar","width":{"band":0.67},"stroke":"#333","strokeWidth":1.5},"encoding":{"y":{"field":"q1","type":"quantitative","title":"Relative Expression (Actb)","axis":{"values":[0,0.1,0.2,0.3,0.4,0.5,0.6,0.7],"format":".1f","labelOverlap":false}},"y2":{"field":"q3"},"fill":{"field":"g","type":"nominal","legend":null,"scale":{"domain":["Sham","PBD1","PBD3","PBD7","Sham Isotype","Burn Isotype","Burn Anti-M-CSF"],"range":["#ffffff","#d4d4d4","#d4d4d4","#d4d4d4","#ffffff","#707070","#d4d4d4"]}}}},
    {"transform":[{"filter":"datum.k==='box'"}],"mark":{"type":"tick","color":"#333","thickness":1.5,"size":25},"encoding":{"y":{"field":"med","type":"quantitative","title":"Relative Expression (Actb)","axis":{"values":[0,0.1,0.2,0.3,0.4,0.5,0.6,0.7],"format":".1f","labelOverlap":false}}}},
    {"transform":[{"filter":"datum.k==='pt'"}],"mark":{"type":"point","filled":true,"fill":"#ffffff","stroke":"#333","strokeWidth":1.5,"size":52,"opacity":1},"encoding":{"y":{"field":"v","type":"quantitative","title":"Relative Expression (Actb)","axis":{"values":[0,0.1,0.2,0.3,0.4,0.5,0.6,0.7],"format":".1f","labelOverlap":false}}}},
    {"transform":[{"filter":"datum.k==='hash'"}],"mark":{"type":"text","text":"#","fontSize":18,"fontWeight":"bold","color":"#111","baseline":"middle"},"encoding":{"y":{"field":"v","type":"quantitative","title":"Relative Expression (Actb)","axis":{"values":[0,0.1,0.2,0.3,0.4,0.5,0.6,0.7],"format":".1f","labelOverlap":false}}}}
   ]}
  ]}
 ]},
{"title":{"text":"D","orient":"left","anchor":"end","angle":0,"align":"right","baseline":"top","frame":"bounds","fontSize":22,"fontWeight":"bold","color":"#111","offset":0,"dx":-4},
 "spacing":81,
 "hconcat":[
  {"width":110,"height":225,"title":{"text":"Fpn1"},"data":{"name":"d"},"transform":[{"filter":"datum.p==='D1'"}],
   "encoding":{"x":{"field":"g","type":"nominal","title":null,"scale":{"type":"band","domain":["Sham Isotype","Burn Isotype","Burn Anti-M-CSF"],"paddingInner":0,"paddingOuter":0.15}}},
   "layer":[
    {"transform":[{"filter":"datum.k==='box'"}],"mark":{"type":"rule","color":"#333","strokeWidth":1.5},"encoding":{"y":{"field":"min","type":"quantitative","title":"Relative Expression (Hprt)","scale":{"domain":[0,3],"nice":false,"zero":false},"axis":{"values":[0,1,2,3],"format":"d","labelOverlap":false}},"y2":{"field":"max"}}},
    {"transform":[{"filter":"datum.k==='box'"}],"mark":{"type":"bar","width":{"band":0.67},"stroke":"#333","strokeWidth":1.5},"encoding":{"y":{"field":"q1","type":"quantitative","title":"Relative Expression (Hprt)","axis":{"values":[0,1,2,3],"format":"d","labelOverlap":false}},"y2":{"field":"q3"},"fill":{"field":"g","type":"nominal","legend":null,"scale":{"domain":["Sham","PBD1","PBD3","PBD7","Sham Isotype","Burn Isotype","Burn Anti-M-CSF"],"range":["#ffffff","#d4d4d4","#d4d4d4","#d4d4d4","#ffffff","#707070","#d4d4d4"]}}}},
    {"transform":[{"filter":"datum.k==='box'"}],"mark":{"type":"tick","color":"#333","thickness":1.5,"size":22},"encoding":{"y":{"field":"med","type":"quantitative","title":"Relative Expression (Hprt)","axis":{"values":[0,1,2,3],"format":"d","labelOverlap":false}}}},
    {"transform":[{"filter":"datum.k==='pt'"}],"mark":{"type":"point","filled":true,"fill":"#ffffff","stroke":"#333","strokeWidth":1.5,"size":52,"opacity":1},"encoding":{"y":{"field":"v","type":"quantitative","title":"Relative Expression (Hprt)","axis":{"values":[0,1,2,3],"format":"d","labelOverlap":false}}}}
   ]},
  {"spacing":60,"hconcat":[
  {"width":112,"height":225,"title":{"text":"Spic"},"data":{"name":"d"},"transform":[{"filter":"datum.p==='D2'"}],
   "encoding":{"x":{"field":"g","type":"nominal","title":null,"scale":{"type":"band","domain":["Sham Isotype","Burn Isotype","Burn Anti-M-CSF"],"paddingInner":0,"paddingOuter":0.15}}},
   "layer":[
    {"transform":[{"filter":"datum.k==='box'"}],"mark":{"type":"rule","color":"#333","strokeWidth":1.5},"encoding":{"y":{"field":"min","type":"quantitative","title":"Relative Expression (Hprt)","scale":{"domain":[0,0.12],"nice":false,"zero":false},"axis":{"values":[0,0.03,0.06,0.09,0.12],"format":".2f","labelOverlap":false}},"y2":{"field":"max"}}},
    {"transform":[{"filter":"datum.k==='box'"}],"mark":{"type":"bar","width":{"band":0.67},"stroke":"#333","strokeWidth":1.5},"encoding":{"y":{"field":"q1","type":"quantitative","title":"Relative Expression (Hprt)","axis":{"values":[0,0.03,0.06,0.09,0.12],"format":".2f","labelOverlap":false}},"y2":{"field":"q3"},"fill":{"field":"g","type":"nominal","legend":null,"scale":{"domain":["Sham","PBD1","PBD3","PBD7","Sham Isotype","Burn Isotype","Burn Anti-M-CSF"],"range":["#ffffff","#d4d4d4","#d4d4d4","#d4d4d4","#ffffff","#707070","#d4d4d4"]}}}},
    {"transform":[{"filter":"datum.k==='box'"}],"mark":{"type":"tick","color":"#333","thickness":1.5,"size":22},"encoding":{"y":{"field":"med","type":"quantitative","title":"Relative Expression (Hprt)","axis":{"values":[0,0.03,0.06,0.09,0.12],"format":".2f","labelOverlap":false}}}},
    {"transform":[{"filter":"datum.k==='pt'"}],"mark":{"type":"point","filled":true,"fill":"#ffffff","stroke":"#333","strokeWidth":1.5,"size":52,"opacity":1},"encoding":{"y":{"field":"v","type":"quantitative","title":"Relative Expression (Hprt)","axis":{"values":[0,0.03,0.06,0.09,0.12],"format":".2f","labelOverlap":false}}}},
    {"transform":[{"filter":"datum.k==='star'"}],"mark":{"type":"text","text":"*","fontSize":32,"fontWeight":"bold","color":"#111","baseline":"middle","dy":8},"encoding":{"y":{"field":"v","type":"quantitative","title":"Relative Expression (Hprt)","axis":{"values":[0,0.03,0.06,0.09,0.12],"format":".2f","labelOverlap":false}}}}
   ]},
  {"width":115,"height":225,"title":{"text":"Hmox1"},"data":{"name":"d"},"transform":[{"filter":"datum.p==='D3'"}],
   "encoding":{"x":{"field":"g","type":"nominal","title":null,"scale":{"type":"band","domain":["Sham Isotype","Burn Isotype","Burn Anti-M-CSF"],"paddingInner":0,"paddingOuter":0.15}}},
   "layer":[
    {"transform":[{"filter":"datum.k==='box'"}],"mark":{"type":"rule","color":"#333","strokeWidth":1.5},"encoding":{"y":{"field":"min","type":"quantitative","title":"Relative Expression (Hprt)","scale":{"domain":[0,2],"nice":false,"zero":false},"axis":{"values":[0,0.5,1,1.5,2],"format":".1f","labelOverlap":false}},"y2":{"field":"max"}}},
    {"transform":[{"filter":"datum.k==='box'"}],"mark":{"type":"bar","width":{"band":0.67},"stroke":"#333","strokeWidth":1.5},"encoding":{"y":{"field":"q1","type":"quantitative","title":"Relative Expression (Hprt)","axis":{"values":[0,0.5,1,1.5,2],"format":".1f","labelOverlap":false}},"y2":{"field":"q3"},"fill":{"field":"g","type":"nominal","legend":null,"scale":{"domain":["Sham","PBD1","PBD3","PBD7","Sham Isotype","Burn Isotype","Burn Anti-M-CSF"],"range":["#ffffff","#d4d4d4","#d4d4d4","#d4d4d4","#ffffff","#707070","#d4d4d4"]}}}},
    {"transform":[{"filter":"datum.k==='box'"}],"mark":{"type":"tick","color":"#333","thickness":1.5,"size":22},"encoding":{"y":{"field":"med","type":"quantitative","title":"Relative Expression (Hprt)","axis":{"values":[0,0.5,1,1.5,2],"format":".1f","labelOverlap":false}}}},
    {"transform":[{"filter":"datum.k==='pt'"}],"mark":{"type":"point","filled":true,"fill":"#ffffff","stroke":"#333","strokeWidth":1.5,"size":52,"opacity":1},"encoding":{"y":{"field":"v","type":"quantitative","title":"Relative Expression (Hprt)","axis":{"values":[0,0.5,1,1.5,2],"format":".1f","labelOverlap":false}}}},
    {"transform":[{"filter":"datum.k==='star'"}],"mark":{"type":"text","text":"*","fontSize":32,"fontWeight":"bold","color":"#111","baseline":"middle","dy":8},"encoding":{"y":{"field":"v","type":"quantitative","title":"Relative Expression (Hprt)","axis":{"values":[0,0.5,1,1.5,2],"format":".1f","labelOverlap":false}}}}
   ]}
  ]}
 ]}
]
}
